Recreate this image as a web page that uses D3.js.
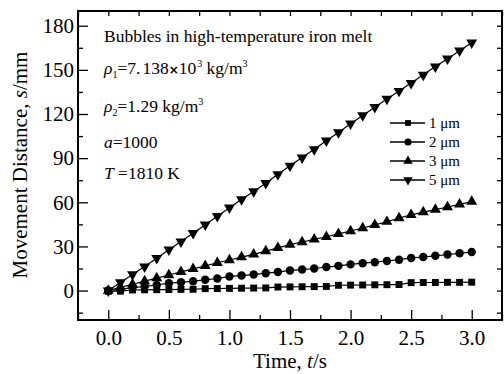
<!DOCTYPE html>
<html>
<head>
<meta charset="utf-8">
<script src="https://cdn.jsdelivr.net/npm/d3@7"></script>
<style>
  body { margin: 0; background: #fff; }
  svg { display: block; font-family: "Liberation Serif", "Times New Roman", serif; }
  svg text { font-family: "Liberation Serif", "Times New Roman", serif; }
</style>
</head>
<body>
<svg id="chart" width="504" height="374"></svg>
<script>
// time points, s
const times = [0, 0.1, 0.2, 0.3, 0.4, 0.5, 0.6, 0.7, 0.8, 0.9, 1.0,
  1.1, 1.2, 1.3, 1.4, 1.5, 1.6, 1.7, 1.8, 1.9, 2.0,
  2.1, 2.2, 2.3, 2.4, 2.5, 2.6, 2.7, 2.8, 2.9, 3.0];

// movement distance, mm
const d1um = [-0.5, -0.4, 0.4, 0.5, 0.6, 0.7, 0.8, 0.9, 1.3, 1.4, 1.5,
  1.6, 1.7, 1.8, 2.4, 2.5, 2.6, 2.7, 2.8, 3.6, 3.7,
  3.8, 3.9, 4.0, 4.1, 5.4, 5.5, 5.5, 5.6, 5.6, 5.7];
const d2um = [0, 1.0, 1.9, 2.8, 3.8, 5.0, 5.6, 6.4, 7.3, 8.2, 9.6,
  10.2, 10.9, 11.8, 12.6, 13.7, 14.3, 15.0, 16.0, 16.8, 17.8,
  18.6, 19.3, 20.1, 21.0, 22.2, 22.8, 23.6, 24.5, 25.3, 26.2];
const d3um = [0, 2.2, 4.3, 6.4, 8.5, 10.6, 12.7, 14.7, 16.8, 18.9, 20.8,
  22.7, 24.6, 26.8, 29.0, 31.2, 33.0, 34.8, 36.6, 38.5, 40.5,
  42.5, 44.6, 46.8, 49.2, 51.5, 53.3, 55.0, 56.8, 58.6, 60.5];
const d5um = [0, 5.5, 11.0, 16.3, 22.0, 27.8, 33.3, 39.0, 44.8, 50.5, 56.3,
  62.0, 67.4, 73.0, 79.0, 84.8, 90.4, 96.0, 101.8, 107.5, 113.4,
  119.0, 124.6, 130.2, 135.6, 141.0, 146.6, 152.2, 157.6, 163.0, 168.4];

const seriesNames = ["1 μm", "2 μm", "3 μm", "5 μm"];
const seriesValues = [d1um, d2um, d3um, d5um];

const xTicks = [0, 0.5, 1.0, 1.5, 2.0, 2.5, 3.0];
const xMinor = [-0.25, 0.25, 0.75, 1.25, 1.75, 2.25, 2.75, 3.25];
const yTicks = [0, 30, 60, 90, 120, 150, 180];
const yMinor = [-15, 15, 45, 75, 105, 135, 165];

const svg = d3.select("#chart");
const m = {left: 78, right: 502, top: 11, bottom: 320};

const x = d3.scaleLinear().domain([-0.25, 3.25]).range([m.left, m.right]);
const y = d3.scaleLinear().domain([-20, 190]).range([m.bottom, m.top]);

const shapes = [d3.symbolSquare, d3.symbolCircle, d3.symbolTriangle, d3.symbolTriangle];
const plotSize = [48, 56, 52, 52];
const legSize = [34, 40, 38, 38];
const rot = [0, 0, 0, 180];

// axes, ticks point inward
function styleAxis(g) {
  g.select(".domain").remove();
  g.attr("font-family", null);
  g.selectAll(".tick line").attr("stroke", "#000").attr("stroke-width", 1.3);
  g.selectAll("text").attr("font-size", 21).attr("fill", "#000");
}

svg.append("g").attr("transform", `translate(0,${m.bottom})`)
  .call(d3.axisBottom(x).tickValues(xTicks).tickSize(-10).tickPadding(10).tickFormat(d3.format(".1f")))
  .call(styleAxis);
svg.append("g").attr("transform", `translate(0,${m.bottom})`)
  .call(d3.axisBottom(x).tickValues(xMinor).tickSize(-5).tickFormat(""))
  .call(styleAxis);
svg.append("g").attr("transform", `translate(0,${m.top})`)
  .call(d3.axisTop(x).tickValues(xTicks.concat(xMinor)).tickSize(-5).tickFormat(""))
  .call(styleAxis);

svg.append("g").attr("transform", `translate(${m.left},0)`)
  .call(d3.axisLeft(y).tickValues(yTicks).tickSize(-10).tickPadding(4))
  .call(styleAxis);
svg.append("g").attr("transform", `translate(${m.left},0)`)
  .call(d3.axisLeft(y).tickValues(yMinor).tickSize(-5).tickFormat(""))
  .call(styleAxis);
svg.append("g").attr("transform", `translate(${m.right},0)`)
  .call(d3.axisRight(y).tickValues(yTicks.concat(yMinor)).tickSize(-5).tickFormat(""))
  .call(styleAxis);

svg.append("rect")
  .attr("x", m.left).attr("y", m.top)
  .attr("width", m.right - m.left).attr("height", m.bottom - m.top)
  .attr("fill", "none").attr("stroke", "#000").attr("stroke-width", 2);

// series
const line = d3.line().x((d, i) => x(times[i])).y(d => y(d));

seriesValues.forEach((vals, k) => {
  svg.append("path").datum(vals)
    .attr("fill", "none").attr("stroke", "#000").attr("stroke-width", 1.2)
    .attr("d", line);
  svg.append("g").selectAll("path").data(vals).join("path")
    .attr("d", d3.symbol().type(shapes[k]).size(plotSize[k]))
    .attr("fill", "#000")
    .attr("transform", (d, i) => `translate(${x(times[i])},${y(d)}) rotate(${rot[k]})`);
});

// legend
const leg = svg.append("g");
seriesNames.forEach((name, k) => {
  const yy = 123 + k * 19;
  leg.append("line").attr("x1", 390).attr("x2", 425).attr("y1", yy).attr("y2", yy)
    .attr("stroke", "#000").attr("stroke-width", 1.3);
  leg.append("path").attr("d", d3.symbol().type(shapes[k]).size(legSize[k])).attr("fill", "#000")
    .attr("transform", `translate(408,${yy}) rotate(${rot[k]})`);
  leg.append("text").attr("x", 429).attr("y", yy).attr("dy", "0.35em")
    .attr("font-size", 15).text(name);
});

// annotations
const ann = svg.append("g").attr("font-size", 17.5);
ann.append("text").attr("x", 104).attr("y", 41.5).text("Bubbles in high-temperature iron melt");

const r1 = ann.append("text").attr("x", 104).attr("y", 74);
r1.append("tspan").attr("font-style", "italic").text("ρ");
r1.append("tspan").attr("font-size", 10).attr("dy", 4).text("1");
r1.append("tspan").attr("dy", -4).text("=7.");
r1.append("tspan").attr("dx", 2).text("138");
r1.append("tspan").attr("font-family", "DejaVu Sans, sans-serif").attr("font-weight", "bold").attr("font-size", 12).text("×");
r1.append("tspan").text("10");
r1.append("tspan").attr("font-size", 10).attr("dx", 1).attr("dy", -7).text("3");
r1.append("tspan").attr("dy", 7).text("  kg/m");
r1.append("tspan").attr("font-size", 10).attr("dy", -7).text("3");

const r2 = ann.append("text").attr("x", 104).attr("y", 111.5);
r2.append("tspan").attr("font-style", "italic").text("ρ");
r2.append("tspan").attr("font-size", 10).attr("dy", 4).text("2");
r2.append("tspan").attr("dy", -4).text("=1.29 kg/m");
r2.append("tspan").attr("font-size", 10).attr("dy", -7).text("3");

const r3 = ann.append("text").attr("x", 104).attr("y", 148);
r3.append("tspan").attr("font-style", "italic").text("a");
r3.append("tspan").text("=1000");

const r4 = ann.append("text").attr("x", 104).attr("y", 179);
r4.append("tspan").attr("font-style", "italic").text("T");
r4.append("tspan").text(" =1810 K");

// axis titles
const xt = svg.append("text").attr("x", 290).attr("y", 368).attr("text-anchor", "middle")
  .attr("font-size", 21);
xt.append("tspan").text("Time, ");
xt.append("tspan").attr("font-style", "italic").text("t");
xt.append("tspan").text("/s");

const yt = svg.append("text").attr("transform", "translate(27,165) rotate(-90)")
  .attr("text-anchor", "middle").attr("font-size", 21);
yt.append("tspan").text("Movement Distance, ");
yt.append("tspan").attr("font-style", "italic").text("s");
yt.append("tspan").text("/mm");
</script>
</body>
</html>
